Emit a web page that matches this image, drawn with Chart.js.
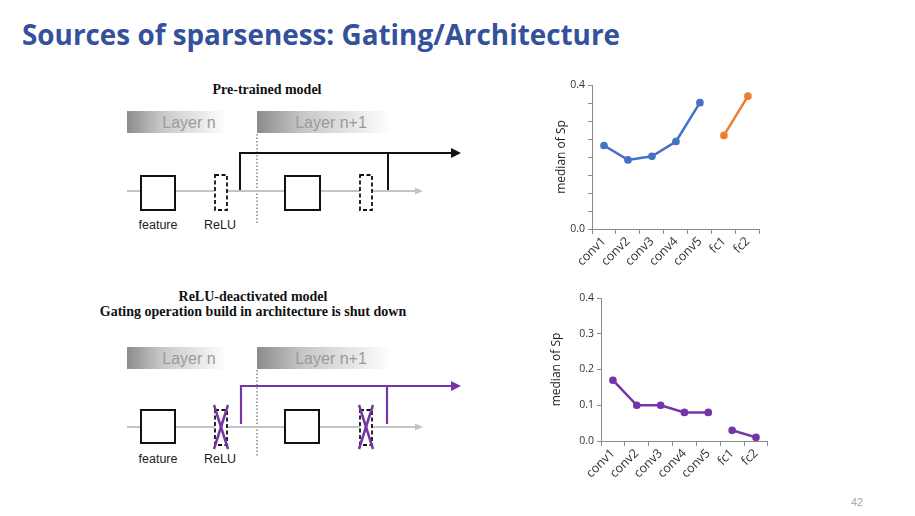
<!DOCTYPE html>
<html>
<head>
<meta charset="utf-8">
<script src="https://cdn.jsdelivr.net/npm/chart.js@4/dist/chart.umd.min.js"></script>
<style>
  html, body { margin: 0; padding: 0; background: #fff; }
  #page { position: relative; width: 915px; height: 516px; overflow: hidden; }
  #art { position: absolute; left: 0; top: 0; }
  #c1 { position: absolute; left: 554px; top: 75px; }
  #c2 { position: absolute; left: 549px; top: 288px; }
</style>
</head>
<body>
<div id="page">
<svg id="art" width="915" height="516" xmlns="http://www.w3.org/2000/svg">
  <defs>
    <linearGradient id="fadeA" x1="0" x2="1" y1="0" y2="0">
      <stop offset="0" stop-color="#8c8c8c"/>
      <stop offset="0.35" stop-color="#c8c8c8"/>
      <stop offset="1" stop-color="#ffffff"/>
    </linearGradient>
  </defs>
  <text x="22" y="45" font-family="Open Sans" font-weight="bold" font-size="29" fill="#34519b"
        textLength="598" lengthAdjust="spacingAndGlyphs">Sources of sparseness: Gating/Architecture</text>

  <!-- top diagram -->
  <text x="267" y="94" text-anchor="middle" font-family="Liberation Serif" font-weight="bold" font-size="14" fill="#111">Pre-trained model</text>
  <rect x="127" y="111" width="100" height="22" fill="url(#fadeA)"/>
  <rect x="257" y="111" width="135" height="22" fill="url(#fadeA)"/>
  <text x="189" y="128" text-anchor="middle" font-family="Liberation Sans" font-size="16" fill="#9a9a9a">Layer n</text>
  <text x="331" y="128" text-anchor="middle" font-family="Liberation Sans" font-size="16" fill="#9a9a9a">Layer n+1</text>
  <line x1="257" y1="134" x2="257" y2="223" stroke="#888" stroke-width="1.5" stroke-dasharray="1.5 2"/>
  <line x1="127" y1="191" x2="417" y2="191" stroke="#c4c4c4" stroke-width="2"/>
  <polygon points="415,187.5 423,191 415,194.5" fill="#c4c4c4"/>
  <rect x="141" y="176" width="34" height="34" fill="#fff" stroke="#111" stroke-width="2"/>
  <rect x="215" y="175" width="12" height="35" fill="#fff" stroke="#111" stroke-width="1.8" stroke-dasharray="4 2.5"/>
  <rect x="285" y="176" width="35" height="34" fill="#fff" stroke="#111" stroke-width="2"/>
  <rect x="360" y="175" width="12" height="35" fill="#fff" stroke="#111" stroke-width="1.8" stroke-dasharray="4 2.5"/>
  <polyline points="240,190 240,153 453,153" fill="none" stroke="#111" stroke-width="2"/>
  <line x1="388" y1="153" x2="388" y2="190" stroke="#111" stroke-width="2"/>
  <polygon points="451,148 461,153 451,158" fill="#111"/>
  <text x="158" y="229" text-anchor="middle" font-family="Liberation Sans" font-size="12.5" fill="#222">feature</text>
  <text x="220" y="229" text-anchor="middle" font-family="Liberation Sans" font-size="12.5" fill="#222">ReLU</text>

  <!-- bottom diagram -->
  <text x="253" y="301" text-anchor="middle" font-family="Liberation Serif" font-weight="bold" font-size="14" fill="#111">ReLU-deactivated model</text>
  <text x="253" y="316" text-anchor="middle" font-family="Liberation Serif" font-weight="bold" font-size="14" fill="#111">Gating operation build in architecture is shut down</text>
  <rect x="127" y="347" width="100" height="22" fill="url(#fadeA)"/>
  <rect x="257" y="347" width="135" height="22" fill="url(#fadeA)"/>
  <text x="189" y="364" text-anchor="middle" font-family="Liberation Sans" font-size="16" fill="#9a9a9a">Layer n</text>
  <text x="331" y="364" text-anchor="middle" font-family="Liberation Sans" font-size="16" fill="#9a9a9a">Layer n+1</text>
  <line x1="257" y1="370" x2="257" y2="456" stroke="#888" stroke-width="1.5" stroke-dasharray="1.5 2"/>
  <line x1="127" y1="427" x2="417" y2="427" stroke="#c4c4c4" stroke-width="2"/>
  <polygon points="415,423.5 423,427 415,430.5" fill="#c4c4c4"/>
  <rect x="141" y="410" width="34" height="33" fill="#fff" stroke="#111" stroke-width="2"/>
  <rect x="215" y="410" width="12" height="35" fill="#fff" stroke="#111" stroke-width="1.8" stroke-dasharray="4 2.5"/>
  <rect x="285" y="410" width="34" height="33" fill="#fff" stroke="#111" stroke-width="2"/>
  <rect x="360" y="410" width="12" height="35" fill="#fff" stroke="#111" stroke-width="1.8" stroke-dasharray="4 2.5"/>
  <line x1="214" y1="405" x2="228" y2="449" stroke="#7436a6" stroke-width="2.5"/>
  <line x1="228" y1="405" x2="214" y2="449" stroke="#7436a6" stroke-width="2.5"/>
  <line x1="359" y1="405" x2="373" y2="449" stroke="#7436a6" stroke-width="2.5"/>
  <line x1="373" y1="405" x2="359" y2="449" stroke="#7436a6" stroke-width="2.5"/>
  <polyline points="241,424 241,386 453,386" fill="none" stroke="#7436a6" stroke-width="2.2"/>
  <line x1="387" y1="386" x2="387" y2="424" stroke="#7436a6" stroke-width="2.2"/>
  <polygon points="451,381 461,386 451,391" fill="#7436a6"/>
  <text x="158" y="463" text-anchor="middle" font-family="Liberation Sans" font-size="12.5" fill="#222">feature</text>
  <text x="220" y="463" text-anchor="middle" font-family="Liberation Sans" font-size="12.5" fill="#222">ReLU</text>

  <text x="857" y="506" text-anchor="middle" font-family="Liberation Sans" font-size="11" fill="#aaa">42</text>
</svg>
<canvas id="c1" width="211" height="215"></canvas>
<canvas id="c2" width="224" height="200"></canvas>
</div>
<script>
// layer names on the x axis
const layers = ['conv1', 'conv2', 'conv3', 'conv4', 'conv5', 'fc1', 'fc2'];

// pre-trained model, median of Sp
const preConv = [0.232, 0.192, 0.202, 0.243, 0.351, null, null];
const preFc = [null, null, null, null, null, 0.260, 0.369];

// ReLU-deactivated model, median of Sp
const deConv = [0.17, 0.10, 0.10, 0.08, 0.08, null, null];
const deFc = [null, null, null, null, null, 0.03, 0.01];

// which y values get a printed label on the top chart
const topLabeled = [0.0, 0.4];

const axisColor = '#8a8a8a';
const textColor = '#333';

function line(data, color) {
    return {
        data: data,
        borderColor: color,
        backgroundColor: color,
        borderWidth: 2.5,
        pointRadius: 2.6,
        pointHoverRadius: 2.6,
        spanGaps: false,
        tension: 0
    };
}

function opts(yWidth, xHeight, step, labelFn) {
    return {
        responsive: false,
        animation: false,
        layout: { padding: { top: 10, right: 5, left: 0, bottom: 0 } },
        plugins: { legend: { display: false }, tooltip: { enabled: false } },
        scales: {
            x: {
                offset: true,
                grid: { offset: true, drawOnChartArea: false, drawTicks: true, tickLength: 5, color: axisColor },
                border: { color: axisColor, width: 1 },
                ticks: { color: textColor, font: { family: 'Open Sans', size: 12.5 }, maxRotation: 45, minRotation: 45, padding: 0, autoSkip: false },
                afterFit: s => { s.height = xHeight; }
            },
            y: {
                min: 0, max: 0.4,
                grid: { drawOnChartArea: false, drawTicks: true, tickLength: 4, color: axisColor },
                border: { color: axisColor, width: 1 },
                ticks: { stepSize: step, color: textColor, font: { family: 'Open Sans', size: 10.5 }, padding: 3, callback: labelFn },
                title: { display: true, text: 'median of Sp', color: '#222', font: { family: 'Open Sans', size: 12 }, padding: 0 },
                afterFit: s => { s.width = yWidth; }
            }
        }
    };
}

new Chart(document.getElementById('c1').getContext('2d'), {
    type: 'line',
    data: { labels: layers, datasets: [line(preConv, '#4472c4'), line(preFc, '#ed7d31')] },
    options: opts(38, 61, 0.05, v => topLabeled.some(t => Math.abs(t - v) < 1e-6) ? v.toFixed(1) : '')
});

new Chart(document.getElementById('c2').getContext('2d'), {
    type: 'line',
    data: { labels: layers, datasets: [line(deConv, '#7436a6'), line(deFc, '#7436a6')] },
    options: opts(52, 47, 0.1, v => v.toFixed(1))
});
</script>
</body>
</html>
